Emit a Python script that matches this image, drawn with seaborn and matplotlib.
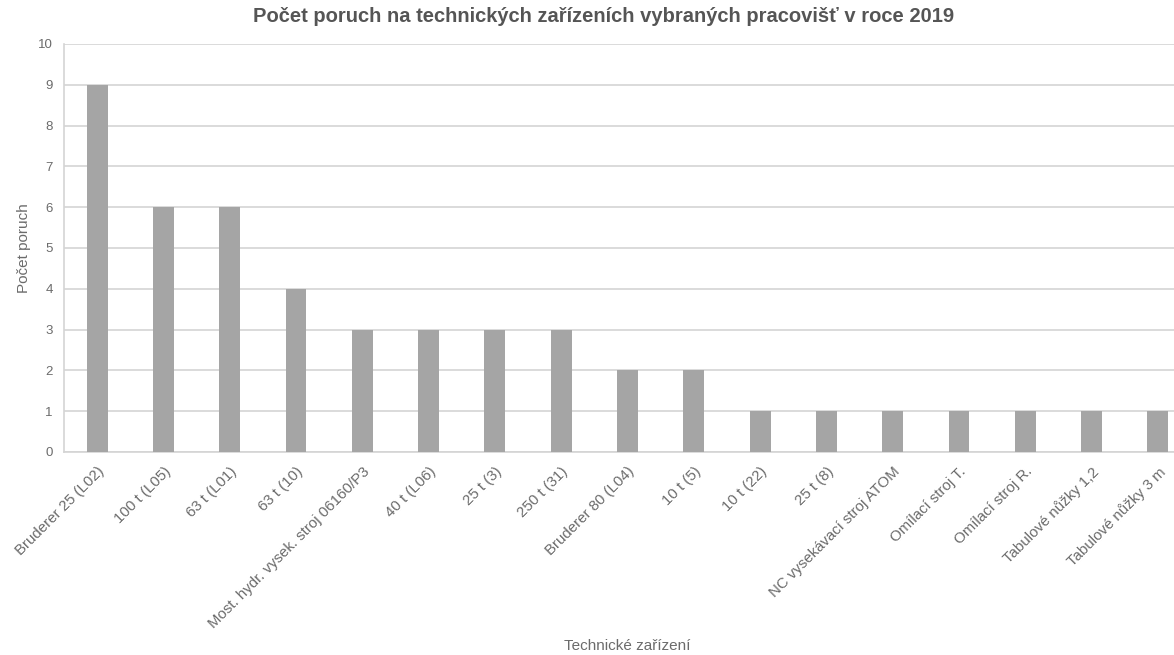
import matplotlib
matplotlib.use("Agg")
import matplotlib.pyplot as plt
import seaborn as sns
import pandas as pd

# Equipment names and the number of failures recorded in 2019
zarizeni = [
    "Bruderer 25 (L02)", "100 t (L05)", "63 t (L01)", "63 t (10)",
    "Most. hydr. vysek. stroj 06160/P3", "40 t (L06)", "25 t (3)",
    "250 t (31)", "Bruderer 80 (L04)", "10 t (5)", "10 t (22)", "25 t (8)",
    "NC vysekávací stroj ATOM", "Omílací stroj T.", "Omílací stroj R.",
    "Tabulové nůžky 1,2", "Tabulové nůžky 3 m",
]
poruchy = [9, 6, 6, 4, 3, 3, 3, 3, 2, 2, 1, 1, 1, 1, 1, 1, 1]
y_ticks = list(range(0, 11))

df = pd.DataFrame({"zarizeni": zarizeni, "poruchy": poruchy})

sns.set_theme(style="white")
plt.rcParams["font.family"] = ["Liberation Sans", "DejaVu Sans"]

text_col = "#6b6b6b"
grid_col = "#d4d4d4"

W, H = 1174, 655
fig = plt.figure(figsize=(W / 100, H / 100), dpi=100)
# the plotting area runs past the right edge of the canvas
ax = fig.add_axes([64 / W, (H - 452) / H, 1127 / W, 408 / H])

sns.barplot(data=df, x="zarizeni", y="poruchy", ax=ax, color="#a5a5a5",
            saturation=1, width=0.315, linewidth=0, zorder=3)

ax.set_xlim(-0.5, len(zarizeni) - 0.5)
ax.set_ylim(0, 10)
ax.set_yticks(y_ticks)
ax.yaxis.grid(True, color=grid_col, linewidth=1.2, zorder=0)
ax.set_axisbelow(True)

for side in ["top", "right"]:
    ax.spines[side].set_visible(False)
for side in ["left", "bottom"]:
    ax.spines[side].set_color(grid_col)
    ax.spines[side].set_linewidth(1.2)

ax.tick_params(axis="y", length=4, width=1, color=grid_col, labelcolor=text_col,
               labelsize=9.5, pad=4)
ax.tick_params(axis="x", length=0, labelcolor=text_col, labelsize=10.8, pad=9)
ax.set_xticks(range(len(zarizeni)))
ax.set_xticklabels(zarizeni, rotation=45, ha="right", rotation_mode="anchor")

ax.set_xlabel("")
ax.set_ylabel("Počet poruch", color=text_col, fontsize=11, labelpad=5)

fig.text(604 / W, 1 - 17 / H, "Počet poruch na technických zařízeních vybraných pracovišť v roce 2019",
         ha="center", va="center", fontsize=14.5, fontweight="bold", color="#555555")
fig.text(627 / W, 1 - 646 / H, "Technické zařízení", ha="center", va="center",
         fontsize=11, color=text_col)

fig.savefig("out.png", dpi=100)
